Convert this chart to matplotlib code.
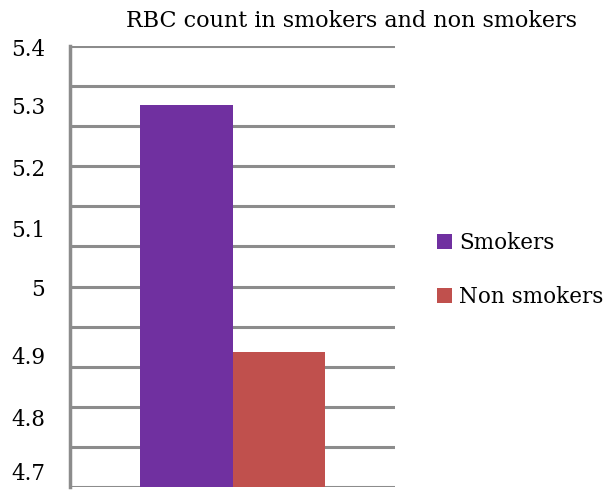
import matplotlib
matplotlib.use("Agg")
import matplotlib.pyplot as plt
import matplotlib.transforms as mtransforms
import numpy as np

# values
series = ["Smokers", "Non smokers"]
values = [5.306, 4.914]
colors = ["#7030A0", "#C0504D"]
yticks = [4.7, 4.8, 4.9, 5.0, 5.1, 5.2, 5.3, 5.4]
ytick_labels = ["4.7", "4.8", "4.9", "5", "5.1", "5.2", "5.3", "5.4"]

plt.rcParams["font.family"] = ["DejaVu Serif"]

fig = plt.figure(figsize=(6.1, 4.92), dpi=100)
ax = fig.add_axes([70 / 610, 5 / 492, 325 / 610, 441 / 492])

ymin, ymax = 4.7, 5.4
# the original chart has 11 evenly spaced gridlines, not one per label
for gy in np.linspace(ymin, ymax, 12):
    ax.axhline(gy, color="#8c8c8c", lw=2.2, zorder=1)

bw = 0.285
xs = [-bw / 2, bw / 2]
for x, v, c, name in zip(xs, values, colors, series):
    ax.bar(x, v - ymin, bottom=ymin, width=bw, color=c, zorder=2, label=name)

ax.set_xlim(-0.5, 0.5)
ax.set_ylim(ymin, ymax)
ax.set_xticks([])
ax.set_yticks(yticks)
ax.set_yticklabels(ytick_labels, fontsize=15.5)
ax.tick_params(axis="y", length=0, pad=18)
# labels in the original drift slightly off the value positions
shifts = [15, 7, 6, 11, 7, 5, 4, -1]
for lab, dy in zip(ax.get_yticklabels(), shifts):
    lab.set_transform(lab.get_transform() +
                      mtransforms.ScaledTranslation(0, dy / 100, fig.dpi_scale_trans))
for s in ["top", "right", "bottom"]:
    ax.spines[s].set_visible(False)
ax.spines["left"].set_color("#8c8c8c")
ax.spines["left"].set_linewidth(2.5)
ax.spines["left"].set_zorder(3)

fig.text(352 / 610, 1 - 21 / 492, "RBC count in smokers and non smokers",
         ha="center", va="center", fontsize=16)

fig.legend(loc="center left", bbox_to_anchor=(418 / 610, 1 - 270 / 492),
           frameon=False, fontsize=15.5, handlelength=0.7, handleheight=0.7,
           handletextpad=0.3, labelspacing=1.5)

fig.savefig("out.png", dpi=100)
